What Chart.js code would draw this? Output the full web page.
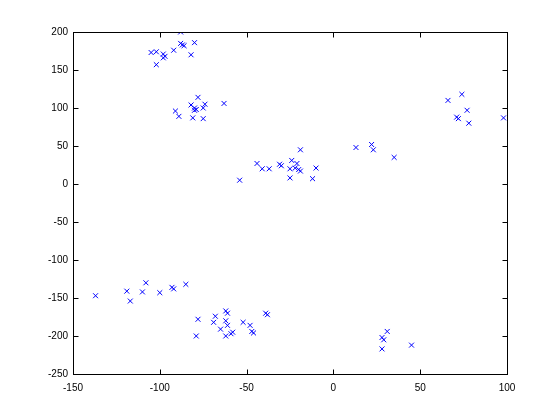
<!DOCTYPE html>
<html>
<head>
<meta charset="utf-8">
<script src="https://cdn.jsdelivr.net/npm/chart.js@4"></script>
<style>
html,body{margin:0;padding:0;background:#fff;}
#wrap{width:560px;height:420px;}
</style>
</head>
<body>
<div id="wrap"><canvas id="c" width="560" height="420"></canvas></div>
<script>
const xValues = [
  -88, -105, -102, -98, -97, -98, -102, -92, -88, -87, -86, -80, -82,
  -91, -89, -78, -82, -80, -79, -80, -81, -75, -74, -75, -63,
  -54, -44, -41, -37, -31, -30, -25, -25, -24, -21, -22, -20, -19, -19, -10, -12,
  13, 22, 23, 35,
  74, 66, 77, 71, 72, 78, 98,
  -137, -119, -117, -110, -108, -100, -93, -92, -85,
  -78, -79, -68, -69, -65, -62, -61, -62, -61, -62, -58, -59, -52, -48, -47, -46, -39, -38,
  31, 28, 29, 28, 45
];
const yValues = [
  200, 173, 174, 171, 168, 166, 157, 176, 185, 183, 182, 186, 170,
  96, 89, 114, 104, 100, 98, 97, 87, 100, 105, 86, 106,
  5, 27, 20, 20, 26, 24, 20, 8, 31, 27, 21, 19, 17, 45, 21, 7,
  48, 52, 45, 35,
  118, 110, 97, 88, 86, 80, 87,
  -147, -141, -154, -142, -130, -143, -136, -138, -132,
  -178, -200, -174, -182, -191, -167, -170, -180, -186, -200, -195, -197, -182, -186, -194, -196, -170, -172,
  -194, -202, -205, -217, -212
];
const xTicks = [-150, -100, -50, 0, 50, 100];
const yTicks = [-250, -200, -150, -100, -50, 0, 50, 100, 150, 200];

const points = xValues.map((x, i) => ({x: x, y: yValues[i]}));

const frame = {
  id: 'frame',
  afterDraw(chart) {
    const {ctx, chartArea: a, scales} = chart;
    ctx.save();
    ctx.strokeStyle = '#000';
    ctx.lineWidth = 1;
    const L = Math.round(a.left) + 0.5, R = Math.round(a.right) + 0.5;
    const T = Math.round(a.top) + 0.5, B = Math.round(a.bottom) + 0.5;
    ctx.strokeRect(L, T, R - L, B - T);
    const len = 5;
    ctx.beginPath();
    xTicks.forEach(v => {
      const p = Math.round(scales.x.getPixelForValue(v)) + 0.5;
      ctx.moveTo(p, B); ctx.lineTo(p, B - len);
      ctx.moveTo(p, T); ctx.lineTo(p, T + len);
    });
    yTicks.forEach(v => {
      const p = Math.round(scales.y.getPixelForValue(v)) + 0.5;
      ctx.moveTo(L, p); ctx.lineTo(L + len, p);
      ctx.moveTo(R, p); ctx.lineTo(R - len, p);
    });
    ctx.stroke();
    ctx.restore();
  }
};

new Chart(document.getElementById('c'), {
  type: 'scatter',
  data: {
    datasets: [{
      data: points,
      pointStyle: 'crossRot',
      pointRadius: 3.5,
      pointHoverRadius: 3.5,
      borderColor: '#0000ff',
      backgroundColor: '#0000ff',
      borderWidth: 1
    }]
  },
  options: {
    responsive: false,
    animation: false,
    events: [],
    layout: {padding: {top: 32, right: 53, left: 0, bottom: 0}},
    plugins: {legend: {display: false}, tooltip: {enabled: false}},
    scales: {
      x: {
        type: 'linear', min: -150, max: 100,
        grid: {display: false, drawTicks: false},
        border: {display: false},
        afterBuildTicks: s => { s.ticks = xTicks.map(v => ({value: v})); },
        afterFit: s => { s.height = 46; },
        ticks: {color: '#000', padding: 8, maxRotation: 0, autoSkip: false,
                font: {family: 'Liberation Sans, Arial, sans-serif', size: 10}}
      },
      y: {
        type: 'linear', min: -250, max: 200,
        grid: {display: false, drawTicks: false},
        border: {display: false},
        afterBuildTicks: s => { s.ticks = yTicks.map(v => ({value: v})); },
        afterFit: s => { s.width = 73; },
        ticks: {color: '#000', padding: 5, autoSkip: false,
                font: {family: 'Liberation Sans, Arial, sans-serif', size: 10}}
      }
    }
  },
  plugins: [frame]
});
</script>
</body>
</html>
